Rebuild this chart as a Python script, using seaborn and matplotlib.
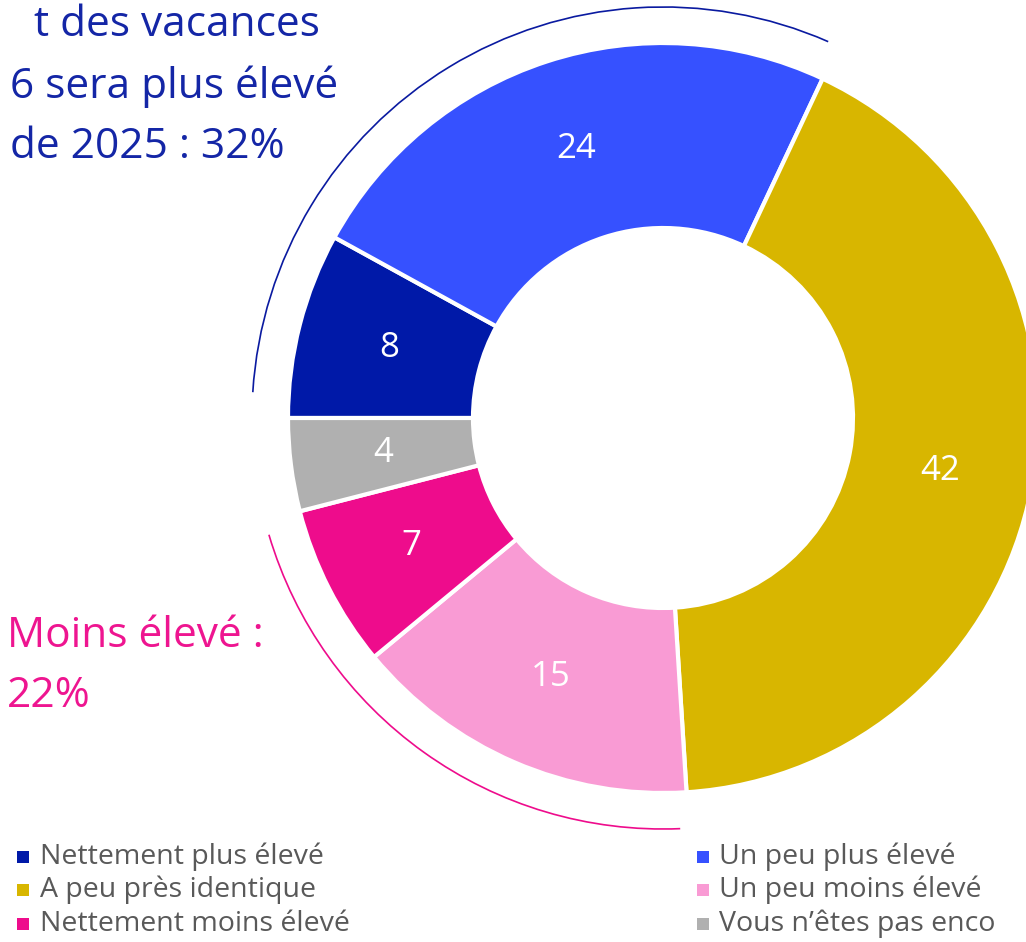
import matplotlib
matplotlib.use("Agg")
import matplotlib.pyplot as plt
from matplotlib.patches import Arc
import seaborn as sns

categories = ["Nettement plus élevé", "Un peu plus élevé", "A peu près identique",
              "Un peu moins élevé", "Nettement moins élevé", "Vous n’êtes pas enco"]
values = [8, 24, 42, 15, 7, 4]
colors = ["#0019A8", "#3651FF", "#D8B600", "#F99BD4", "#EE0C8C", "#B0B0B0"]
title_lines = ["t des vacances", "6 sera plus élevé", " de 2025 : 32%"]
low_lines = ["Moins élevé :", "22%"]

sns.set_theme(style="white")
FONT = ["Open Sans", "DejaVu Sans"]
plt.rcParams["font.family"] = FONT

W, H = 1026, 942
fig = plt.figure(figsize=(W / 100, H / 100), dpi=100)
ax = fig.add_axes([0, 0, 1, 1])

cx, cy = 663, H - 418
R = 375
ring = 185

wedges, texts, autotexts = ax.pie(
    values, colors=colors, startangle=180, counterclock=False,
    center=(cx, cy), radius=R, frame=True,
    autopct=lambda p: f"{p:.0f}", pctdistance=(R - ring / 2) / R,
    wedgeprops=dict(width=ring, edgecolor="white", linewidth=3),
    textprops=dict(color="white", fontsize=25, family=FONT))

ax.set_xlim(0, W)
ax.set_ylim(0, H)
ax.set_aspect("equal")
ax.axis("off")

# annotation arcs
ra = 411
blue_arc = Arc((cx, cy), 2 * ra, 2 * ra, theta1=wedges[1].theta1 + 1.5,
               theta2=wedges[0].theta2 - 3.6, color="#0A1AA0", lw=1.2)
pink_arc = Arc((cx, cy), 2 * ra, 2 * ra, theta1=wedges[4].theta1 + 2.1,
               theta2=wedges[3].theta2 - 1.2, color="#EE0C8C", lw=1.2)
ax.add_patch(blue_arc)
ax.add_patch(pink_arc)

# top-left annotation (clipped at left)
title_color = "#1426A6"
for txt, xr, yb in zip(title_lines, [320, 338, 285], [36, 98, 158]):
    ax.text(xr, H - yb, txt, ha="right", va="baseline", fontsize=30.5,
            color=title_color)

for txt, yb in zip(low_lines, [647, 707]):
    ax.text(7, H - yb, txt, ha="left", va="baseline", fontsize=30.5,
            color="#EE1590")

# legend
order = [0, 2, 4, 1, 3, 5]
rows_y = [857, 890, 924]
for k, i in enumerate(order):
    col = k // 3
    row = k % 3
    mx = 23 if col == 0 else 703
    tx = 40 if col == 0 else 719
    y = H - rows_y[row]
    ax.scatter([mx], [y], marker="s", s=80, color=colors[i], linewidths=0)
    ax.text(tx, y, categories[i], ha="left", va="center", fontsize=20.5,
            color="#595959")

fig.savefig("out.png", dpi=100)
